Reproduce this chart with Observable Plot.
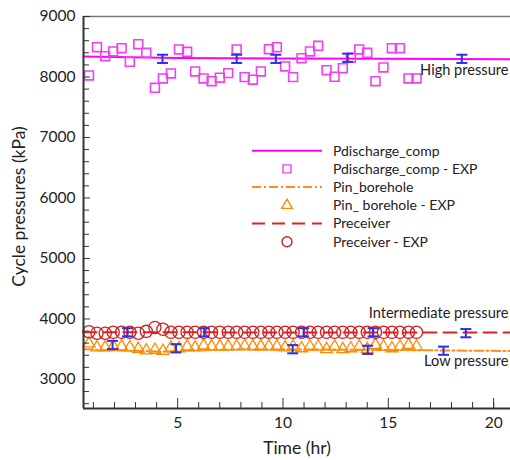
<!DOCTYPE html>
<html><head><meta charset="utf-8">
<script src="https://cdn.jsdelivr.net/npm/d3@7"></script>
<script src="https://cdn.jsdelivr.net/npm/@observablehq/plot@0.6"></script>
<style>
body{margin:0;background:#fff;font-family:Lato,sans-serif}
#wrap{position:relative;width:510px;height:460px;overflow:hidden}
#legend{position:absolute;left:0;top:0}
</style></head><body><div id="wrap"></div>
<script>
// ---- data ----
const timeExp = [0.79,1.17,1.56,1.94,2.34,2.73,3.13,3.51,3.92,4.30,4.68,5.06,5.45,5.83,6.23,6.61,7.00,7.40,7.80,8.18,8.57,8.95,9.33,9.71,10.10,10.48,10.88,11.28,11.67,12.07,12.45,12.84,13.22,13.62,14.00,14.39,14.77,15.17,15.55,15.96,16.34];
const pDischargeExp = [8026,8493,8344,8422,8476,8252,8543,8400,7822,7976,8059,8455,8417,8092,7976,7931,7988,8064,8455,7998,7955,8092,8460,8493,8174,7998,8311,8422,8516,8113,8004,8146,8318,8455,8400,7931,8158,8476,8476,7976,7976];
const pInExp = [3595,3530,3530,3545,3545,3530,3505,3480,3490,3470,3525,3515,3545,3530,3560,3545,3545,3545,3550,3555,3545,3545,3545,3545,3530,3543,3515,3543,3543,3500,3543,3500,3515,3543,3500,3570,3543,3515,3543,3570,3543];
const pReceiverExp = [3790,3765,3765,3780,3780,3780,3765,3795,3860,3830,3780,3780,3780,3780,3780,3780,3780,3780,3780,3780,3780,3780,3780,3780,3780,3780,3780,3780,3780,3780,3780,3780,3780,3780,3780,3780,3780,3780,3780,3780,3780];

const dischargeModelT = [0.53,5,10,15,20.8];
const dischargeModel  = [8340,8315,8305,8300,8295];
const inModelT = [0.53,2,3.5,4.5,5.5,8,12,16,20.8];
const inModel  = [3500,3480,3470,3455,3480,3495,3495,3485,3470];
const receiverModelT = [0.53,20.8];
const receiverModel  = [3780,3775];

const hiErrT = [4.28,7.80,9.66,13.07,18.49];
const hiErrV = [8300,8300,8300,8318,8300];
const midErrT = [2.62,6.26,10.98,14.28,18.68];
const midErrV = [3780,3780,3780,3780,3765];
const lowErrT = [1.91,4.92,10.46,14.02,17.62];
const lowErrV = [3570,3515,3500,3490,3475];
const errHalf = 68;

const xMajorTicks = [5,10,15,20];
const xMinorTicks = [1,2,3,4,6,7,8,9,11,12,13,14,16,17,18,19,20];
const yMajorTicks = [3000,4000,5000,6000,7000,8000,9000];
const yMinorTicks = [2600,2800,3200,3400,3600,3800,4200,4400,4600,4800,5200,5400,5600,5800,6200,6400,6600,6800,7200,7400,7600,7800,8200,8400,8600,8800];

const xTitle = "Time (hr)";
const yTitle = "Cycle pressures (kPa)";
const annotations = [
  {label:"High pressure", y:8108},
  {label:"Intermediate pressure", y:4100},
  {label:"Low pressure", y:3295}
];
const legendItems = [
  {label:"Pdischarge_comp", kind:"line", color:"#ff00ff", dash:null},
  {label:"Pdischarge_comp - EXP", kind:"square", color:"#f040f0"},
  {label:"Pin_borehole", kind:"line", color:"#ff8c1a", dash:"9,3,2,3"},
  {label:"Pin_ borehole - EXP", kind:"triangle", color:"#ff8c00"},
  {label:"Preceiver", kind:"line", color:"#dd2222", dash:"13,7"},
  {label:"Preceiver - EXP", kind:"circle", color:"#d42020"}
];

// ---- tables ----
const xDomain = [0.53, 20.8], yDomain = [2520, 9000];
const exp = timeExp.map((t,i)=>({t, d:pDischargeExp[i], p:pInExp[i], r:pReceiverExp[i]}));
const dischargeLine = dischargeModelT.map((t,i)=>({t, v:dischargeModel[i]}));
const inLine = inModelT.map((t,i)=>({t, v:inModel[i]}));
const recLine = receiverModelT.map((t,i)=>({t, v:receiverModel[i]}));
const errs = [
  ...hiErrT.map((t,i)=>({t, v:hiErrV[i]})),
  ...midErrT.map((t,i)=>({t, v:midErrV[i]})),
  ...lowErrT.map((t,i)=>({t, v:lowErrV[i]}))
];
const blue = "#2f2fe6";
const cap = {draw(ctx){ ctx.moveTo(-5.5,0); ctx.lineTo(5.5,0); }};

const chart = Plot.plot({
  width:510, height:460,
  marginLeft:83, marginRight:0, marginTop:16, marginBottom:52,
  style:{fontFamily:"Lato, sans-serif", fontSize:"15px", color:"#222", background:"#fff"},
  x:{domain:xDomain}, y:{domain:yDomain},
  marks:[
    Plot.line(dischargeLine, {x:"t", y:"v", stroke:"#ff00ff", strokeWidth:2}),
    Plot.line(inLine, {x:"t", y:"v", stroke:"#ff8c1a", strokeWidth:2, strokeDasharray:"9,3,2,3"}),
    Plot.line(recLine, {x:"t", y:"v", stroke:"#dd2222", strokeWidth:2, strokeDasharray:"13,7"}),
    Plot.dot(exp, {x:"t", y:"d", symbol:"square", r:5, stroke:"#f040f0", strokeWidth:1.6, fill:"none"}),
    Plot.dot(exp, {x:"t", y:"p", symbol:"triangle", r:4.4, stroke:"#ff8c00", strokeWidth:1.3, fill:"none"}),
    Plot.dot(exp, {x:"t", y:"r", symbol:"circle", r:6.1, stroke:"#d42020", strokeWidth:1.3, fill:"none"}),
    Plot.ruleX(errs, {x:"t", y1:d=>d.v-errHalf, y2:d=>d.v+errHalf, stroke:blue, strokeWidth:2}),
    Plot.dot(errs, {x:"t", y:d=>d.v+errHalf, symbol:cap, stroke:blue, strokeWidth:2}),
    Plot.dot(errs, {x:"t", y:d=>d.v-errHalf, symbol:cap, stroke:blue, strokeWidth:2}),
    Plot.text(annotations, {y:"y", text:"label", frameAnchor:"right", textAnchor:"end", dx:-2, fontSize:14.6, fill:"#222"}),
    Plot.ruleY([yDomain[1]], {stroke:"#777", strokeWidth:1.5}),
    Plot.ruleX([xDomain[0]], {stroke:"#333", strokeWidth:2}),
    Plot.ruleY([yDomain[0]], {stroke:"#333", strokeWidth:2}),
    Plot.axisX(xMinorTicks, {tickSize:-6, tickFormat:()=>"", stroke:"#333", label:null}),
    Plot.axisX(xMajorTicks, {tickSize:-10, tickPadding:18, tickFormat:d3.format("d"), stroke:"#333", label:null, fontSize:15.5}),
    Plot.axisY(yMinorTicks, {tickSize:-6, tickFormat:()=>"", stroke:"#333", label:null}),
    Plot.axisY(yMajorTicks, {tickSize:-7, tickPadding:15, tickFormat:d3.format("d"), stroke:"#333", label:null, fontSize:15.5})
  ]
});
const wrap = document.getElementById("wrap");
wrap.appendChild(chart);

// overlay: axis titles and legend
const lg = d3.select(wrap).append("svg").attr("id","legend").attr("width",510).attr("height",460)
  .style("font-family","Lato, sans-serif");
lg.append("text").attr("transform","translate(18.5,206.5) rotate(-90)").attr("text-anchor","middle")
  .attr("dy","0.35em").attr("font-size",17.5).attr("fill","#222").text(yTitle);
lg.append("text").attr("x",297).attr("y",448).attr("text-anchor","middle")
  .attr("dy","0.35em").attr("font-size",17.5).attr("fill","#222").text(xTitle);
legendItems.forEach((it,i)=>{
  const y = 150.7 + i*18.2;
  const g = lg.append("g").attr("transform",`translate(0,${y})`);
  if (it.kind==="line") {
    g.append("line").attr("x1",252).attr("x2",322).attr("y1",0).attr("y2",0)
      .attr("stroke",it.color).attr("stroke-width",2).attr("stroke-dasharray",it.dash);
  } else {
    const sym = it.kind==="square"?d3.symbolSquare:it.kind==="triangle"?d3.symbolTriangle:d3.symbolCircle;
    const size = it.kind==="square"?64:it.kind==="triangle"?48:78;
    g.append("path").attr("d", d3.symbol(sym, size)()).attr("transform","translate(287,0)")
      .attr("fill","none").attr("stroke",it.color).attr("stroke-width",1.4);
  }
  g.append("text").attr("x",333).attr("y",0).attr("dy","0.35em").attr("font-size",14)
    .attr("fill","#222").text(it.label);
});
</script>
</body></html>
